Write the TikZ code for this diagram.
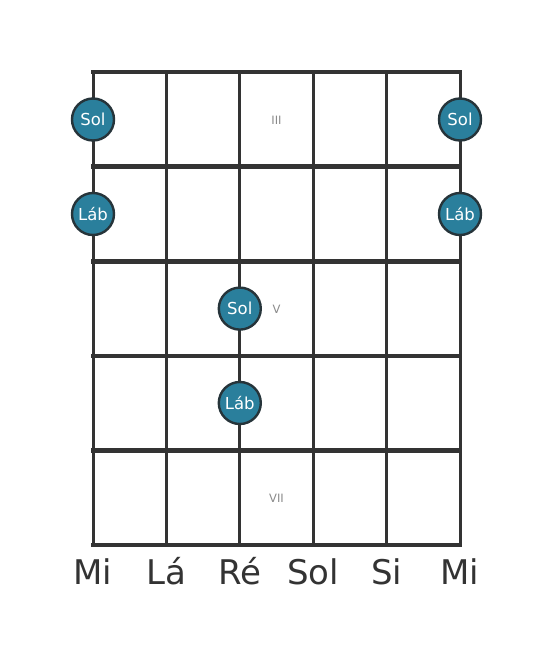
\documentclass[tikz,border=0pt]{standalone}
\usepackage{fontspec}
\setmainfont{DejaVu Sans}
\usepackage{tikz}
\definecolor{linegray}{HTML}{333333}
\definecolor{notefill}{HTML}{2A7F9C}
\definecolor{noteedge}{HTML}{26343A}
\definecolor{numgray}{HTML}{8A8A8A}
\tikzset{
  stringline/.style={draw=linegray,line width=3pt},
  fretline/.style={draw=linegray,line width=4.6pt,line cap=rect},
  note/.style={circle,draw=noteedge,fill=notefill,line width=2.4pt,minimum size=42pt,inner sep=0pt,
    text=white,font=\fontsize{16.5}{16.5}\selectfont},
  fretno/.style={text=numgray,font=\fontsize{11.5}{11.5}\selectfont},
  strname/.style={anchor=base,text=linegray,font=\fontsize{34}{34}\selectfont}
}

\begin{document}
\begin{tikzpicture}[x=1pt,y=-1pt]
		\useasboundingbox (0,0) rectangle (553,656);
		% strings and frets
		\foreach \i in {0,...,5}
			\draw[stringline] (93+73.4*\i,72) -- (93+73.4*\i,545);
		\foreach \j in {0,...,5}
			\draw[fretline] (93,72+94.6*\j) -- (460,72+94.6*\j);
		% fret numbers
		\node[fretno] (fIII) at (276.5,120) {III};
		\node[fretno] (fV) at (276.5,309) {V};
		\node[fretno] (fVII) at (276.5,498) {VII};
		% notes
		\node[note] (sol1) at (93,119.5) {Sol};
		\node[note] (sol6) at (460,119.5) {Sol};
		\node[note] (lab1) at (93,214) {Láb};
		\node[note] (lab6) at (460,214) {Láb};
		\node[note] (sol3) at (239.8,308.6) {Sol};
		\node[note] (lab3) at (239.8,403) {Láb};
		% string names
		\foreach \n [count=\i from 0] in {Mi,Lá,Ré,Sol,Si,Mi}
			\node[strname] (s\i) at (93+73.4*\i,584) {\n};
		\end{tikzpicture}
\end{document}
